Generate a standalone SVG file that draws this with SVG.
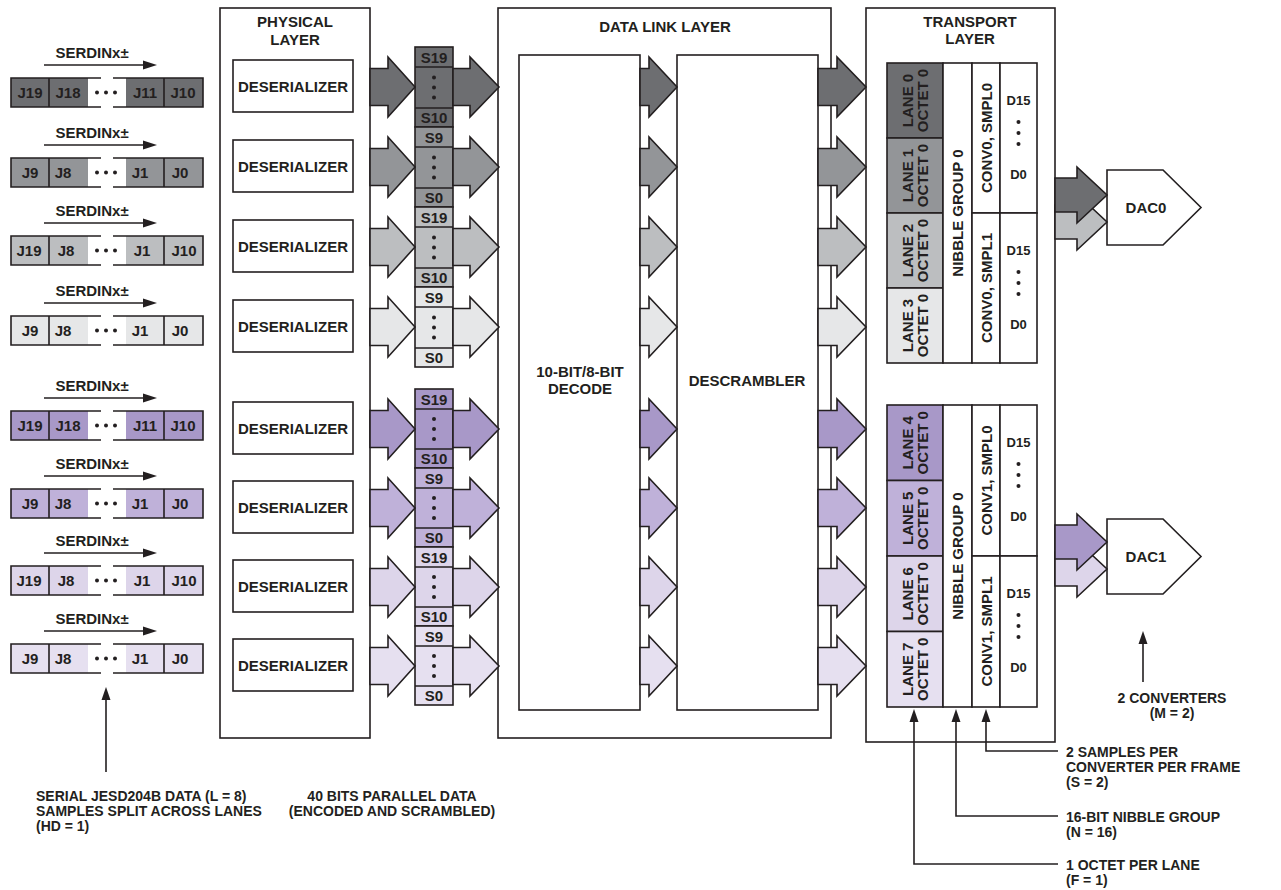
<svg xmlns="http://www.w3.org/2000/svg" xmlns:xlink="http://www.w3.org/1999/xlink" width="1281" height="890" viewBox="0 0 1281 890">
<style>
text{font-family:"Liberation Sans",Arial,Helvetica,sans-serif;font-weight:bold;font-size:15px;fill:#231f20}
.m{text-anchor:middle}
.s13{font-size:13px}
.s14{font-size:14px}
.ln{fill:none;stroke:#231f20;stroke-width:1.6}
.bx{fill:#fff;stroke:#231f20;stroke-width:1.6}
.cl{stroke:#231f20;stroke-width:1.6}
.dot{fill:#231f20}
.ar{stroke:#231f20;stroke-width:1.6;stroke-linejoin:miter}
.g1{fill:#6d6e71}.g2{fill:#939598}.g3{fill:#bcbec0}.g4{fill:#e6e7e8}
.p1{fill:#a898c8}.p2{fill:#bfb1d9}.p3{fill:#ddd5ea}.p4{fill:#e6e0f0}
</style>
<defs>
<path id="arrA" d="M370,-18.5 H388 V-30 L415,0 L388,30 V18.5 H370 Z"/>
<path id="arrB" d="M453,-18.5 H470 V-30 L499,0 L470,30 V18.5 H453 Z"/>
<path id="arrC" d="M640,-18.5 H649 V-30 L677,0 L649,30 V18.5 H640 Z"/>
<path id="arrD" d="M818,-18.5 H837 V-30 L866,0 L837,30 V18.5 H818 Z"/>
<g id="bitframe">
<rect x="88" y="0" width="38" height="29" fill="#fff"/>
<path class="ln" d="M101,0 H11 V29 H101 M113,0 H203 V29 H113 M49,0 V29 M164,0 V29"/>
<circle class="dot" cx="97" cy="14.5" r="2"/><circle class="dot" cx="106" cy="14.5" r="2"/><circle class="dot" cx="115" cy="14.5" r="2"/>
<path class="ln" d="M44,-13 H145"/>
<polygon class="dot" points="143,-17.5 157,-13 143,-8.5"/>
</g>
</defs>

<!-- Serial lanes (left) -->
<g id="serial-lanes">
<g id="lane0-serial" transform="translate(0,78)">
<rect x="11" y="0" width="192" height="29" class="g1"/><use xlink:href="#bitframe"/>
<text class="m" x="92" y="-20">SERDINx±</text>
<text class="m" x="30" y="20">J19</text><text class="m" x="68" y="20">J18</text><text class="m" x="145" y="20">J11</text><text class="m" x="183" y="20">J10</text>
</g>
<g id="lane1-serial" transform="translate(0,158)">
<rect x="11" y="0" width="192" height="29" class="g2"/><use xlink:href="#bitframe"/>
<text class="m" x="92" y="-20">SERDINx±</text>
<text class="m" x="30" y="20">J9</text><text class="m" x="63" y="20">J8</text><text class="m" x="140" y="20">J1</text><text class="m" x="180" y="20">J0</text>
</g>
<g id="lane2-serial" transform="translate(0,236)">
<rect x="11" y="0" width="192" height="29" class="g3"/><use xlink:href="#bitframe"/>
<text class="m" x="92" y="-20">SERDINx±</text>
<text class="m" x="29" y="20">J19</text><text class="m" x="66" y="20">J8</text><text class="m" x="142" y="20">J1</text><text class="m" x="184" y="20">J10</text>
</g>
<g id="lane3-serial" transform="translate(0,316)">
<rect x="11" y="0" width="192" height="29" class="g4"/><use xlink:href="#bitframe"/>
<text class="m" x="92" y="-20">SERDINx±</text>
<text class="m" x="30" y="20">J9</text><text class="m" x="63" y="20">J8</text><text class="m" x="140" y="20">J1</text><text class="m" x="180" y="20">J0</text>
</g>
<g id="lane4-serial" transform="translate(0,411)">
<rect x="11" y="0" width="192" height="29" class="p1"/><use xlink:href="#bitframe"/>
<text class="m" x="92" y="-20">SERDINx±</text>
<text class="m" x="30" y="20">J19</text><text class="m" x="68" y="20">J18</text><text class="m" x="145" y="20">J11</text><text class="m" x="183" y="20">J10</text>
</g>
<g id="lane5-serial" transform="translate(0,489)">
<rect x="11" y="0" width="192" height="29" class="p2"/><use xlink:href="#bitframe"/>
<text class="m" x="92" y="-20">SERDINx±</text>
<text class="m" x="30" y="20">J9</text><text class="m" x="63" y="20">J8</text><text class="m" x="140" y="20">J1</text><text class="m" x="180" y="20">J0</text>
</g>
<g id="lane6-serial" transform="translate(0,566)">
<rect x="11" y="0" width="192" height="29" class="p3"/><use xlink:href="#bitframe"/>
<text class="m" x="92" y="-20">SERDINx±</text>
<text class="m" x="29" y="20">J19</text><text class="m" x="66" y="20">J8</text><text class="m" x="142" y="20">J1</text><text class="m" x="184" y="20">J10</text>
</g>
<g id="lane7-serial" transform="translate(0,644)">
<rect x="11" y="0" width="192" height="29" class="p4"/><use xlink:href="#bitframe"/>
<text class="m" x="92" y="-20">SERDINx±</text>
<text class="m" x="30" y="20">J9</text><text class="m" x="63" y="20">J8</text><text class="m" x="140" y="20">J1</text><text class="m" x="180" y="20">J0</text>
</g>
</g>

<!-- Physical layer -->
<g id="physical-layer">
<rect class="bx" x="220" y="8" width="150" height="730"/>
<text class="m" x="295" y="27">PHYSICAL</text>
<text class="m" x="295" y="45">LAYER</text>
<rect class="bx" x="233" y="60" width="120" height="52"/><text class="m" x="293" y="91.5">DESERIALIZER</text>
<rect class="bx" x="233" y="140" width="120" height="52"/><text class="m" x="293" y="171.5">DESERIALIZER</text>
<rect class="bx" x="233" y="220" width="120" height="52"/><text class="m" x="293" y="251.5">DESERIALIZER</text>
<rect class="bx" x="233" y="300" width="120" height="52"/><text class="m" x="293" y="331.5">DESERIALIZER</text>
<rect class="bx" x="233" y="402" width="120" height="52"/><text class="m" x="293" y="433.5">DESERIALIZER</text>
<rect class="bx" x="233" y="481" width="120" height="52"/><text class="m" x="293" y="512.5">DESERIALIZER</text>
<rect class="bx" x="233" y="560" width="120" height="52"/><text class="m" x="293" y="591.5">DESERIALIZER</text>
<rect class="bx" x="233" y="639" width="120" height="52"/><text class="m" x="293" y="670.5">DESERIALIZER</text>
</g>

<!-- Data link layer -->
<g id="data-link-layer">
<rect class="bx" x="498" y="8" width="333" height="730"/>
<text class="m" x="665" y="32">DATA LINK LAYER</text>
<rect class="bx" x="519" y="55" width="121" height="655"/>
<text class="m" x="580" y="377">10-BIT/8-BIT</text>
<text class="m" x="580" y="393.5">DECODE</text>
<rect class="bx" x="677" y="55" width="141" height="655"/>
<text class="m" x="747" y="386">DESCRAMBLER</text>
</g>

<!-- Transport layer -->
<g id="transport-layer">
<rect class="bx" x="866" y="8" width="189" height="734"/>
<text class="m" x="970" y="27">TRANSPORT</text>
<text class="m" x="970" y="44">LAYER</text>
<g id="transport-upper">
<rect x="887" y="63" width="56" height="75" class="g1 cl"/>
<rect x="887" y="138" width="56" height="75" class="g2 cl"/>
<rect x="887" y="213" width="56" height="75" class="g3 cl"/>
<rect x="887" y="288" width="56" height="75" class="g4 cl"/>
<rect class="bx" x="943" y="63" width="29" height="300"/>
<rect class="bx" x="972" y="63" width="28" height="150"/>
<rect class="bx" x="972" y="213" width="28" height="150"/>
<rect class="bx" x="1000" y="63" width="37" height="150"/>
<rect class="bx" x="1000" y="213" width="37" height="150"/>
<text class="m" transform="translate(913,100.5) rotate(-90)">LANE 0</text>
<text class="m" transform="translate(928,100.5) rotate(-90)">OCTET 0</text>
<text class="m" transform="translate(913,175.5) rotate(-90)">LANE 1</text>
<text class="m" transform="translate(928,175.5) rotate(-90)">OCTET 0</text>
<text class="m" transform="translate(913,250.5) rotate(-90)">LANE 2</text>
<text class="m" transform="translate(928,250.5) rotate(-90)">OCTET 0</text>
<text class="m" transform="translate(913,325.5) rotate(-90)">LANE 3</text>
<text class="m" transform="translate(928,325.5) rotate(-90)">OCTET 0</text>
<text class="m" transform="translate(963,213) rotate(-90)">NIBBLE GROUP 0</text>
<text class="m" transform="translate(991.5,138) rotate(-90)">CONV0, SMPL0</text>
<text class="m" transform="translate(991.5,288) rotate(-90)">CONV0, SMPL1</text>
<text class="m s13" x="1018.5" y="105">D15</text>
<circle class="dot" cx="1018.5" cy="122" r="2"/><circle class="dot" cx="1018.5" cy="133" r="2"/><circle class="dot" cx="1018.5" cy="144" r="2"/>
<text class="m s13" x="1018.5" y="179">D0</text>
<text class="m s13" x="1018.5" y="255">D15</text>
<circle class="dot" cx="1018.5" cy="272" r="2"/><circle class="dot" cx="1018.5" cy="283" r="2"/><circle class="dot" cx="1018.5" cy="294" r="2"/>
<text class="m s13" x="1018.5" y="329">D0</text>
</g>
<g id="transport-lower">
<rect x="887" y="405" width="56" height="75.5" class="p1 cl"/>
<rect x="887" y="480.5" width="56" height="75.5" class="p2 cl"/>
<rect x="887" y="556" width="56" height="75.5" class="p3 cl"/>
<rect x="887" y="631.5" width="56" height="75.5" class="p4 cl"/>
<rect class="bx" x="943" y="405" width="29" height="302"/>
<rect class="bx" x="972" y="405" width="28" height="151"/>
<rect class="bx" x="972" y="556" width="28" height="151"/>
<rect class="bx" x="1000" y="405" width="37" height="151"/>
<rect class="bx" x="1000" y="556" width="37" height="151"/>
<text class="m" transform="translate(913,442.75) rotate(-90)">LANE 4</text>
<text class="m" transform="translate(928,442.75) rotate(-90)">OCTET 0</text>
<text class="m" transform="translate(913,518.25) rotate(-90)">LANE 5</text>
<text class="m" transform="translate(928,518.25) rotate(-90)">OCTET 0</text>
<text class="m" transform="translate(913,593.75) rotate(-90)">LANE 6</text>
<text class="m" transform="translate(928,593.75) rotate(-90)">OCTET 0</text>
<text class="m" transform="translate(913,669.25) rotate(-90)">LANE 7</text>
<text class="m" transform="translate(928,669.25) rotate(-90)">OCTET 0</text>
<text class="m" transform="translate(963,556) rotate(-90)">NIBBLE GROUP 0</text>
<text class="m" transform="translate(991.5,480.5) rotate(-90)">CONV1, SMPL0</text>
<text class="m" transform="translate(991.5,631.5) rotate(-90)">CONV1, SMPL1</text>
<text class="m s13" x="1018.5" y="447">D15</text>
<circle class="dot" cx="1018.5" cy="464" r="2"/><circle class="dot" cx="1018.5" cy="475" r="2"/><circle class="dot" cx="1018.5" cy="486" r="2"/>
<text class="m s13" x="1018.5" y="521">D0</text>
<text class="m s13" x="1018.5" y="598">D15</text>
<circle class="dot" cx="1018.5" cy="615" r="2"/><circle class="dot" cx="1018.5" cy="626" r="2"/><circle class="dot" cx="1018.5" cy="637" r="2"/>
<text class="m s13" x="1018.5" y="672">D0</text>
</g>
</g>

<!-- Parallel data column -->
<g id="parallel-data">
<rect x="415" y="47" width="38" height="80" class="g1 cl"/>
<rect x="415" y="127" width="38" height="80" class="g2 cl"/>
<rect x="415" y="207" width="38" height="80" class="g3 cl"/>
<rect x="415" y="287" width="38" height="80" class="g4 cl"/>
<rect x="415" y="389" width="38" height="79" class="p1 cl"/>
<rect x="415" y="468" width="38" height="79" class="p2 cl"/>
<rect x="415" y="547" width="38" height="79" class="p3 cl"/>
<rect x="415" y="626" width="38" height="79" class="p4 cl"/>
<path class="ln" d="M415,67 H453 M415,108 H453 M415,147 H453 M415,188 H453 M415,227 H453 M415,268 H453 M415,307 H453 M415,348 H453 M415,409 H453 M415,449 H453 M415,488 H453 M415,528 H453 M415,567 H453 M415,607 H453 M415,646 H453 M415,686 H453"/>
<text class="m" x="434" y="62.5">S19</text><text class="m" x="434" y="122.5">S10</text>
<text class="m" x="434" y="142.5">S9</text><text class="m" x="434" y="202.5">S0</text>
<text class="m" x="434" y="222.5">S19</text><text class="m" x="434" y="282.5">S10</text>
<text class="m" x="434" y="302.5">S9</text><text class="m" x="434" y="362.5">S0</text>
<text class="m" x="434" y="404.5">S19</text><text class="m" x="434" y="463.5">S10</text>
<text class="m" x="434" y="483.5">S9</text><text class="m" x="434" y="542.5">S0</text>
<text class="m" x="434" y="562.5">S19</text><text class="m" x="434" y="621.5">S10</text>
<text class="m" x="434" y="641.5">S9</text><text class="m" x="434" y="700.5">S0</text>
<g class="dot">
<circle cx="434" cy="77.5" r="2"/><circle cx="434" cy="87.5" r="2"/><circle cx="434" cy="97.5" r="2"/>
<circle cx="434" cy="157.5" r="2"/><circle cx="434" cy="167.5" r="2"/><circle cx="434" cy="177.5" r="2"/>
<circle cx="434" cy="237.5" r="2"/><circle cx="434" cy="247.5" r="2"/><circle cx="434" cy="257.5" r="2"/>
<circle cx="434" cy="317.5" r="2"/><circle cx="434" cy="327.5" r="2"/><circle cx="434" cy="337.5" r="2"/>
<circle cx="434" cy="419" r="2"/><circle cx="434" cy="429" r="2"/><circle cx="434" cy="439" r="2"/>
<circle cx="434" cy="498" r="2"/><circle cx="434" cy="508" r="2"/><circle cx="434" cy="518" r="2"/>
<circle cx="434" cy="577" r="2"/><circle cx="434" cy="587" r="2"/><circle cx="434" cy="597" r="2"/>
<circle cx="434" cy="656" r="2"/><circle cx="434" cy="666" r="2"/><circle cx="434" cy="676" r="2"/>
</g>
</g>

<!-- DACs -->
<g id="dac0">
<path class="bx" d="M1107,170 H1163 L1201,207.5 L1163,245 H1107 Z"/>
<text class="m" x="1146" y="213">DAC0</text>
</g>
<g id="dac1">
<path class="bx" d="M1107,519 H1163 L1201,556.5 L1163,594 H1107 Z"/>
<text class="m" x="1146" y="562">DAC1</text>
</g>

<!-- Connectors -->
<g id="connectors">
<g class="ar">
<use xlink:href="#arrA" y="87" class="g1"/><use xlink:href="#arrA" y="167" class="g2"/><use xlink:href="#arrA" y="247" class="g3"/><use xlink:href="#arrA" y="327" class="g4"/>
<use xlink:href="#arrA" y="429" class="p1"/><use xlink:href="#arrA" y="508" class="p2"/><use xlink:href="#arrA" y="587" class="p3"/><use xlink:href="#arrA" y="666" class="p4"/>
<use xlink:href="#arrB" y="87" class="g1"/><use xlink:href="#arrB" y="167" class="g2"/><use xlink:href="#arrB" y="247" class="g3"/><use xlink:href="#arrB" y="327" class="g4"/>
<use xlink:href="#arrB" y="429" class="p1"/><use xlink:href="#arrB" y="508" class="p2"/><use xlink:href="#arrB" y="587" class="p3"/><use xlink:href="#arrB" y="666" class="p4"/>
<use xlink:href="#arrC" y="87" class="g1"/><use xlink:href="#arrC" y="167" class="g2"/><use xlink:href="#arrC" y="247" class="g3"/><use xlink:href="#arrC" y="327" class="g4"/>
<use xlink:href="#arrC" y="429" class="p1"/><use xlink:href="#arrC" y="508" class="p2"/><use xlink:href="#arrC" y="587" class="p3"/><use xlink:href="#arrC" y="666" class="p4"/>
<use xlink:href="#arrD" y="87" class="g1"/><use xlink:href="#arrD" y="167" class="g2"/><use xlink:href="#arrD" y="247" class="g3"/><use xlink:href="#arrD" y="327" class="g4"/>
<use xlink:href="#arrD" y="429" class="p1"/><use xlink:href="#arrD" y="508" class="p2"/><use xlink:href="#arrD" y="587" class="p3"/><use xlink:href="#arrD" y="666" class="p4"/>
<path class="g3" d="M1055,205 H1077 V194 L1107,222 L1077,250 V239 H1055 Z"/>
<path class="g1" d="M1055,178 H1077 V167 L1107,195 L1077,223 V212 H1055 Z"/>
<path class="p3" d="M1055,552 H1077 V541 L1107,569 L1077,597 V586 H1055 Z"/>
<path class="p1" d="M1055,525 H1077 V514 L1107,542 L1077,570 V559 H1055 Z"/>
</g>
<path class="ln" d="M106,772 V698"/>
<polygon class="dot" points="106,687 101.5,700 110.5,700"/>
<path class="ln" d="M1143,682 V642"/>
<polygon class="dot" points="1143,631 1138.5,644 1147.5,644"/>
<path class="ln" d="M986,720 V751 H1058"/>
<polygon class="dot" points="986,709 981.5,722 990.5,722"/>
<path class="ln" d="M956,720 V816 H1058"/>
<polygon class="dot" points="956,709 951.5,722 960.5,722"/>
<path class="ln" d="M914,720 V864 H1058"/>
<polygon class="dot" points="914,709 909.5,722 918.5,722"/>
</g>

<!-- Annotations -->
<g id="annotations">
<text class="s14" x="36" y="801">SERIAL JESD204B DATA (L = 8)</text>
<text class="s14" x="36" y="816">SAMPLES SPLIT ACROSS LANES</text>
<text class="s14" x="36" y="831">(HD = 1)</text>
<text class="m s14" x="392" y="801">40 BITS PARALLEL DATA</text>
<text class="m s14" x="392" y="816">(ENCODED AND SCRAMBLED)</text>
<text class="m s14" x="1172" y="703">2 CONVERTERS</text>
<text class="m s14" x="1172" y="718">(M = 2)</text>
<text class="s14" x="1066" y="757">2 SAMPLES PER</text>
<text class="s14" x="1066" y="772">CONVERTER PER FRAME</text>
<text class="s14" x="1066" y="787">(S = 2)</text>
<text class="s14" x="1066" y="821.5">16-BIT NIBBLE GROUP</text>
<text class="s14" x="1066" y="836.5">(N = 16)</text>
<text class="s14" x="1066" y="869.5">1 OCTET PER LANE</text>
<text class="s14" x="1066" y="884.5">(F = 1)</text>
</g>
</svg>
